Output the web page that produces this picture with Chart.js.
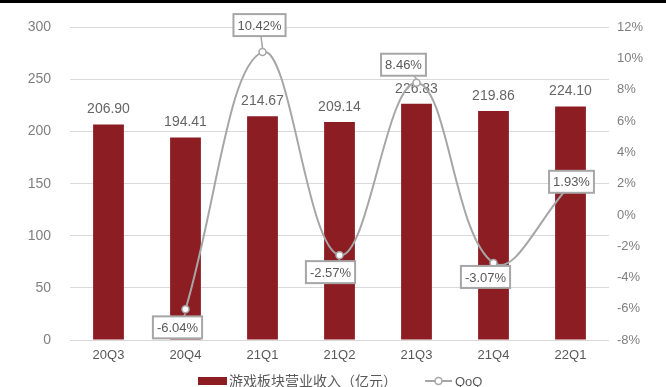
<!DOCTYPE html>
<html>
<head>
<meta charset="utf-8">
<script src="https://cdn.jsdelivr.net/npm/chart.js@4"></script>
<style>
  html, body { margin: 0; padding: 0; background: #fff; }
  #wrap { position: relative; width: 666px; height: 387px; }
  #topbar { position: absolute; left: 0; top: 0; width: 666px; height: 3px; background: #000; }
</style>
</head>
<body>
<div id="wrap">
  <canvas id="chart" width="666" height="387"></canvas>
  <div id="topbar"></div>
</div>
<script>
const quarters = ["20Q3", "20Q4", "21Q1", "21Q2", "21Q3", "21Q4", "22Q1"];
const revenue = [206.90, 194.41, 214.67, 209.14, 226.83, 219.86, 224.10];
const qoq = [null, -6.04, 10.42, -2.57, 8.46, -3.07, 1.93];

// where each QoQ label box sits relative to its point
const qoqLabelOffsets = [null, [-8, 18], [-3, -27], [-9, 17], [-13, -18], [-8, 14], [1, -3]];

const barColor = "#8C1D23";
const lineColor = "#A6A6A6";
const textColor = "#595959";
const latin = '"Liberation Sans", Arial, sans-serif';

const labelPlugin = {
  id: "labels",
  afterDatasetDraw(chart, args) {
    if (chart.data.datasets[args.index].type !== "bar") return;
    const ctx = chart.ctx;
    ctx.save();
    ctx.font = "14px " + latin;
    ctx.fillStyle = "#666";
    ctx.textAlign = "center";
    ctx.textBaseline = "bottom";
    args.meta.data.forEach((bar, i) => {
      ctx.fillText(revenue[i].toFixed(2), bar.x, bar.y - 8);
    });
    ctx.restore();
  },
  afterDatasetsDraw(chart) {
    const ctx = chart.ctx;
    const meta = chart.getDatasetMeta(0);
    ctx.save();
    ctx.font = "13px " + latin;
    ctx.textAlign = "center";
    ctx.textBaseline = "middle";
    meta.data.forEach((pt, i) => {
      if (qoq[i] === null) return;
      const txt = qoq[i].toFixed(2) + "%";
      const w = ctx.measureText(txt).width + 8;
      const h = 22;
      const cx = pt.x + qoqLabelOffsets[i][0];
      const cy = pt.y + qoqLabelOffsets[i][1];
      // leader line to the point
      ctx.strokeStyle = lineColor;
      ctx.lineWidth = 1.5;
      ctx.beginPath();
      ctx.moveTo(pt.x, pt.y + (cy < pt.y ? -4 : 4));
      ctx.lineTo(cx, cy);
      ctx.stroke();
      ctx.fillStyle = "#fff";
      ctx.fillRect(cx - w / 2, cy - h / 2, w, h);
      ctx.lineWidth = 2;
      ctx.strokeRect(cx - w / 2, cy - h / 2, w, h);
      ctx.fillStyle = textColor;
      ctx.fillText(txt, cx, cy + 1);
    });
    ctx.restore();
  },
  afterDraw(chart) {
    // legend row under the axis
    const ctx = chart.ctx;
    const y = 381;
    ctx.save();
    ctx.fillStyle = barColor;
    ctx.fillRect(198, y - 4, 29, 8);
    ctx.font = '14px "Noto Sans CJK SC", sans-serif';
    ctx.fillStyle = textColor;
    ctx.textBaseline = "middle";
    ctx.fillText("游戏板块营业收入（亿元）", 229, y);
    ctx.strokeStyle = lineColor;
    ctx.lineWidth = 2;
    ctx.beginPath();
    ctx.moveTo(425, y);
    ctx.lineTo(452, y);
    ctx.stroke();
    ctx.beginPath();
    ctx.arc(438.5, y, 3.5, 0, Math.PI * 2);
    ctx.fillStyle = "#fff";
    ctx.fill();
    ctx.lineWidth = 1.5;
    ctx.stroke();
    ctx.font = "13px " + latin;
    ctx.fillStyle = textColor;
    ctx.fillText("QoQ", 455, y + 1);
    ctx.restore();
  }
};

new Chart(document.getElementById("chart"), {
  data: {
    labels: quarters,
    datasets: [
      {
        type: "line",
        label: "QoQ",
        data: qoq,
        yAxisID: "y1",
        order: 0,
        borderColor: lineColor,
        borderWidth: 2,
        tension: 0.4,
        pointRadius: 3.5,
        pointBackgroundColor: "#fff",
        pointBorderColor: lineColor,
        pointBorderWidth: 1.5
      },
      {
        type: "bar",
        label: "游戏板块营业收入（亿元）",
        data: revenue,
        yAxisID: "y",
        order: 1,
        backgroundColor: barColor,
        categoryPercentage: 0.8,
        barPercentage: 0.5
      }
    ]
  },
  options: {
    responsive: false,
    animation: false,
    layout: { padding: { top: 22, bottom: 17, left: 0, right: 0 } },
    plugins: { legend: { display: false }, tooltip: { enabled: false } },
    scales: {
      x: {
        grid: { display: false, drawTicks: false },
        border: { display: false },
        ticks: { color: textColor, font: { family: latin, size: 13 }, padding: 8 },
        afterFit: s => { s.height = 30; }
      },
      y: {
        position: "left",
        min: 0,
        max: 300,
        ticks: { stepSize: 50, color: "#7f7f7f", font: { family: latin, size: 14 }, padding: 19 },
        grid: { color: "#d9d9d9", drawTicks: false, lineWidth: 1 },
        border: { display: false },
        afterFit: s => { s.width = 70; }
      },
      y1: {
        position: "right",
        min: -8,
        max: 12,
        ticks: {
          stepSize: 2,
          color: "#7f7f7f",
          font: { family: latin, size: 13 },
          padding: 8,
          callback: v => v + "%"
        },
        grid: { display: false, drawTicks: false },
        border: { display: false },
        afterFit: s => { s.width = 57; }
      }
    }
  },
  plugins: [labelPlugin]
});
</script>
</body>
</html>
